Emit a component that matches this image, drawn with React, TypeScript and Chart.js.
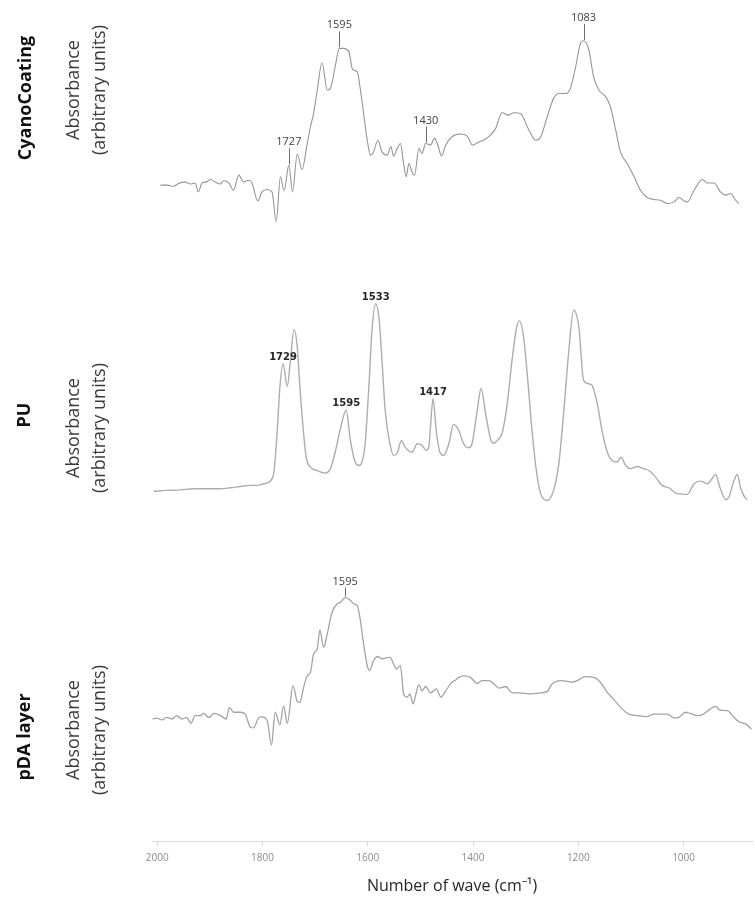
import React, { useEffect, useRef } from "react";
import { Chart, registerables } from "chart.js";

Chart.register(...registerables);

// x ticks (wavenumber, cm-1)
const xTicks = [2000, 1800, 1600, 1400, 1200, 1000];

// CyanoCoating spectrum
const cyanoWave = [1994,1982,1969,1960,1947,1937,1928,1922,1915,1906,1899,1890,1880,1874,1864,1855,1845,1836,1826,1820,1809,1801,1791,1782,1774,1766,1759,1750,1743,1734,1725,1715,1709,1703,1696,1687,1677,1671,1662,1654,1646,1636,1629,1620,1614,1608,1601,1595,1589,1581,1573,1563,1556,1551,1544,1538,1532,1527,1522,1516,1511,1503,1497,1490,1481,1473,1466,1460,1452,1440,1424,1411,1401,1389,1380,1367,1357,1345,1332,1323,1310,1294,1281,1272,1259,1247,1237,1224,1215,1205,1196,1190,1180,1171,1161,1148,1139,1129,1120,1107,1094,1082,1069,1056,1044,1031,1018,1009,999,993,980,964,955,942,930,920,911,901,895];
const cyanoAbs = [0.315,0.315,0.311,0.321,0.327,0.319,0.323,0.290,0.323,0.327,0.336,0.327,0.319,0.331,0.323,0.296,0.352,0.327,0.333,0.323,0.256,0.290,0.299,0.290,0.179,0.346,0.294,0.389,0.290,0.430,0.373,0.469,0.531,0.580,0.667,0.768,0.667,0.673,0.753,0.821,0.821,0.809,0.743,0.734,0.667,0.580,0.481,0.426,0.438,0.481,0.438,0.426,0.457,0.422,0.451,0.469,0.395,0.346,0.395,0.364,0.352,0.451,0.432,0.469,0.463,0.488,0.457,0.423,0.463,0.494,0.504,0.496,0.463,0.475,0.481,0.500,0.525,0.583,0.574,0.583,0.580,0.519,0.481,0.491,0.568,0.636,0.654,0.654,0.673,0.753,0.840,0.849,0.815,0.716,0.667,0.642,0.605,0.519,0.438,0.395,0.346,0.296,0.269,0.262,0.259,0.247,0.253,0.269,0.257,0.253,0.296,0.336,0.323,0.323,0.290,0.278,0.284,0.259,0.247];
const cyanoPeakLabels = ["1727", "1595", "1430", "1083"];
const cyanoPeakWave = [1750, 1654, 1490, 1190];

// PU spectrum
const puWave = [2007,1982,1956,1931,1906,1880,1861,1842,1823,1810,1798,1788,1782,1778,1772,1767,1761,1753,1747,1740,1734,1729,1723,1717,1709,1696,1681,1671,1662,1652,1641,1633,1624,1617,1611,1605,1598,1592,1585,1579,1573,1567,1558,1551,1544,1536,1529,1516,1506,1497,1489,1484,1481,1476,1470,1463,1456,1446,1437,1427,1418,1408,1402,1392,1385,1376,1367,1361,1351,1345,1335,1326,1317,1312,1304,1296,1288,1278,1269,1259,1247,1237,1228,1218,1209,1199,1190,1180,1174,1164,1155,1145,1136,1126,1119,1110,1101,1088,1076,1066,1053,1041,1028,1015,1006,993,980,968,955,946,939,931,920,914,904,898,892,884,879];
const puAbs = [0.167,0.170,0.172,0.176,0.176,0.176,0.180,0.185,0.189,0.189,0.195,0.201,0.214,0.245,0.396,0.560,0.648,0.562,0.660,0.776,0.711,0.560,0.409,0.295,0.258,0.245,0.235,0.252,0.314,0.403,0.472,0.358,0.277,0.264,0.277,0.346,0.560,0.774,0.874,0.824,0.660,0.472,0.346,0.302,0.311,0.358,0.333,0.314,0.346,0.340,0.321,0.333,0.409,0.516,0.396,0.314,0.302,0.346,0.419,0.396,0.346,0.331,0.346,0.472,0.554,0.459,0.365,0.348,0.365,0.384,0.497,0.660,0.786,0.809,0.748,0.585,0.396,0.220,0.145,0.132,0.170,0.271,0.459,0.698,0.849,0.786,0.585,0.572,0.566,0.497,0.396,0.314,0.283,0.277,0.295,0.264,0.252,0.260,0.252,0.245,0.220,0.189,0.180,0.160,0.157,0.155,0.195,0.205,0.195,0.214,0.230,0.182,0.135,0.145,0.208,0.230,0.182,0.145,0.135];
const puPeakLabels = ["1729", "1595", "1533", "1417"];
const puPeakWave = [1761, 1641, 1585, 1476];

// pDA layer spectrum
const pdaWave = [2009,2001,1991,1982,1972,1963,1953,1944,1936,1928,1918,1912,1902,1892,1880,1869,1863,1855,1842,1833,1823,1817,1807,1801,1791,1783,1776,1767,1760,1753,1742,1734,1729,1722,1715,1709,1703,1696,1691,1684,1677,1668,1658,1652,1643,1633,1627,1620,1614,1608,1601,1597,1589,1581,1573,1567,1558,1551,1546,1538,1532,1525,1520,1514,1510,1503,1497,1490,1481,1470,1461,1452,1440,1433,1427,1418,1405,1392,1383,1370,1357,1351,1338,1326,1310,1294,1272,1259,1250,1234,1221,1212,1196,1188,1171,1158,1145,1133,1117,1104,1088,1069,1056,1031,1018,1009,996,987,974,964,949,939,931,917,904,895,882,871];
const pdaAbs = [0.401,0.404,0.398,0.406,0.401,0.412,0.401,0.406,0.387,0.412,0.412,0.419,0.406,0.419,0.412,0.401,0.439,0.423,0.423,0.417,0.374,0.372,0.406,0.408,0.395,0.316,0.423,0.382,0.444,0.387,0.510,0.458,0.455,0.504,0.542,0.553,0.613,0.630,0.692,0.635,0.679,0.749,0.777,0.782,0.798,0.788,0.777,0.771,0.722,0.646,0.575,0.559,0.592,0.605,0.597,0.600,0.602,0.581,0.564,0.575,0.483,0.472,0.483,0.450,0.472,0.513,0.493,0.507,0.486,0.499,0.472,0.493,0.521,0.528,0.537,0.542,0.537,0.517,0.526,0.526,0.510,0.502,0.507,0.487,0.486,0.483,0.486,0.491,0.515,0.526,0.524,0.521,0.532,0.539,0.537,0.521,0.488,0.466,0.434,0.417,0.412,0.409,0.417,0.417,0.404,0.406,0.423,0.419,0.412,0.415,0.434,0.442,0.430,0.428,0.406,0.392,0.385,0.368];
const pdaPeakLabels = ["1595"];
const pdaPeakWave = [1643];

const toPoints = (w: number[], a: number[]) => w.map((x, i) => ({ x, y: a[i] }));

const panels = [
  { axis: "yCyano", wave: cyanoWave, abs: cyanoAbs, labels: cyanoPeakLabels, at: cyanoPeakWave, lead: 17, gap: 3, font: "11px 'Open Sans'", color: "#404040" },
  { axis: "yPu", wave: puWave, abs: puAbs, labels: puPeakLabels, at: puPeakWave, lead: 0, gap: 4, font: "bold 10px 'DejaVu Sans'", color: "#262626" },
  { axis: "yPda", wave: pdaWave, abs: pdaAbs, labels: pdaPeakLabels, at: pdaPeakWave, lead: 10, gap: 2, font: "11px 'Open Sans'", color: "#404040" },
];

const peakPlugin = {
  id: "peakLabels",
  afterDatasetsDraw(chart: any) {
    const ctx = chart.ctx;
    const xs = chart.scales.x;
    ctx.save();
    panels.forEach((p) => {
      const ys = chart.scales[p.axis];
      p.labels.forEach((lab, i) => {
        const w = p.at[i];
        const idx = p.wave.indexOf(w);
        const px = xs.getPixelForValue(w);
        const py = ys.getPixelForValue(p.abs[idx]);
        if (p.lead > 0) {
          ctx.strokeStyle = "#6e6e6e";
          ctx.lineWidth = 1;
          ctx.beginPath();
          ctx.moveTo(Math.round(px) + 0.5, py - 1);
          ctx.lineTo(Math.round(px) + 0.5, py - p.lead);
          ctx.stroke();
        }
        ctx.font = p.font;
        ctx.fillStyle = p.color;
        ctx.textAlign = "center";
        ctx.textBaseline = "alphabetic";
        ctx.fillText(lab, px, py - p.lead - p.gap);
      });
    });
    ctx.restore();
  },
};

const sideLabels = [
  { name: "CyanoCoating", nx: 24, ny: 98, ax: 85, ay: 90 },
  { name: "PU", nx: 23, ny: 415, ax: 85, ay: 428 },
  { name: "pDA layer", nx: 23, ny: 737, ax: 85, ay: 730 },
];

export default function App() {
  const ref = useRef<HTMLCanvasElement | null>(null);

  useEffect(() => {
    if (!ref.current) return;
    const chart = new Chart(ref.current, {
      type: "line",
      data: {
        datasets: [
          { label: "pDA layer", data: toPoints(pdaWave, pdaAbs), yAxisID: "yPda", borderColor: "#a3a3a3", borderWidth: 1.3, pointRadius: 0, cubicInterpolationMode: "monotone", fill: false },
          { label: "PU", data: toPoints(puWave, puAbs), yAxisID: "yPu", borderColor: "#adadad", borderWidth: 1.4, pointRadius: 0, cubicInterpolationMode: "monotone", fill: false },
          { label: "CyanoCoating", data: toPoints(cyanoWave, cyanoAbs), yAxisID: "yCyano", borderColor: "#959595", borderWidth: 1.1, pointRadius: 0, cubicInterpolationMode: "monotone", fill: false },
        ],
      } as any,
      options: {
        animation: false,
        responsive: false,
        layout: { padding: { left: 152, right: 3, top: 0, bottom: 0 } },
        plugins: { legend: { display: false }, tooltip: { enabled: false } },
        scales: {
          x: {
            type: "linear",
            reverse: true,
            min: 870,
            max: 2010,
            afterBuildTicks: (s: any) => {
              s.ticks = xTicks.map((v) => ({ value: v }));
            },
            ticks: {
              font: { family: "'Open Sans'", size: 10 },
              color: "#8c8c8c",
              padding: 6,
              maxRotation: 0,
              autoSkip: false,
              callback: (v: any) => String(v),
            },
            grid: { display: true, drawOnChartArea: false, drawTicks: true, tickLength: 4, color: "#d9d9d9" },
            border: { display: true, color: "#d9d9d9" },
            title: { display: true, text: "Number of wave (cm\u207B\u00B9)", font: { family: "'Open Sans'", size: 16 }, color: "#262626", padding: { top: 7, bottom: 4 } },
          },
          yPda: { type: "linear", display: false, stack: "spectra", stackWeight: 306, min: 0, max: 1 },
          yPu: { type: "linear", display: false, stack: "spectra", stackWeight: 265, min: 0, max: 1 },
          yCyano: { type: "linear", display: false, stack: "spectra", stackWeight: 270, min: 0, max: 1 },
        },
      } as any,
      plugins: [peakPlugin],
    });
    return () => chart.destroy();
  }, []);

  return (
    <div style={{ position: "absolute", left: 0, top: 0, width: 755, height: 900, background: "#fff", overflow: "hidden" }}>
      <canvas ref={ref} width={755} height={900} style={{ position: "absolute", left: 0, top: 0, width: 755, height: 900 }} />
      {sideLabels.map((s) => (
        <React.Fragment key={s.name}>
          <div
            style={{
              position: "absolute",
              left: s.nx,
              top: s.ny,
              transform: "translate(-50%, -50%) rotate(-90deg)",
              whiteSpace: "nowrap",
              fontFamily: "'Open Sans', sans-serif",
              fontWeight: 700,
              fontSize: 18,
              color: "#111",
            }}
          >
            {s.name}
          </div>
          <div
            style={{
              position: "absolute",
              left: s.ax,
              top: s.ay,
              transform: "translate(-50%, -50%) rotate(-90deg)",
              whiteSpace: "nowrap",
              textAlign: "center",
              fontFamily: "'Open Sans', sans-serif",
              fontSize: 18,
              lineHeight: "26px",
              color: "#3a3a3a",
            }}
          >
            <div>Absorbance</div>
            <div>(arbitrary units)</div>
          </div>
        </React.Fragment>
      ))}
    </div>
  );
}
